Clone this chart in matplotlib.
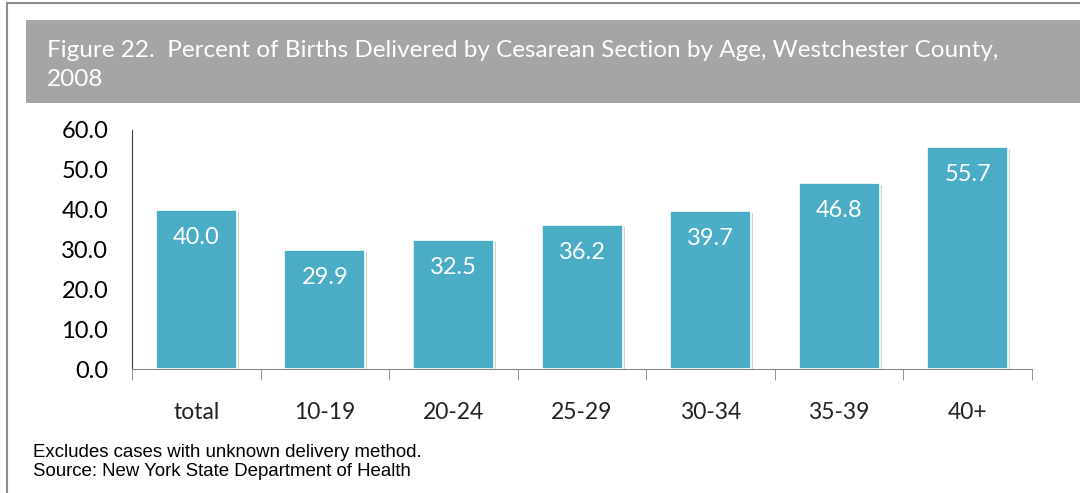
import matplotlib.pyplot as plt
import matplotlib.patheffects as pe
from matplotlib.patches import Rectangle
from matplotlib.lines import Line2D

categories = ['total', '10-19', '20-24', '25-29', '30-34', '35-39', '40+']
values = [40.0, 29.9, 32.5, 36.2, 39.7, 46.8, 55.7]
yticks = [0, 10, 20, 30, 40, 50, 60]

title = 'Figure 22.  Percent of Births Delivered by Cesarean Section by Age, Westchester County,\n2008'
notes = 'Excludes cases with unknown delivery method.\nSource: New York State Department of Health'

W, H = 1080, 493
fig = plt.figure(figsize=(W / 100, H / 100), dpi=100)

# outer frame (top and left edges visible)
fig.add_artist(Line2D([7 / W, 1], [1 - 3 / H, 1 - 3 / H], color='#8c8c8c', lw=1.5))
fig.add_artist(Line2D([7 / W, 7 / W], [0, 1 - 3 / H], color='#8c8c8c', lw=1.5))

# grey title band
fig.add_artist(Rectangle((26 / W, 1 - 103 / H), 1 - 26 / W, 83 / H,
                         transform=fig.transFigure, color='#a5a5a5', lw=0))
fig.text(47 / W, 1 - 65 / H, title, color='white', fontsize=17.5, family='Lato',
         va='center', linespacing=1.5)

ax = fig.add_axes([132 / W, 1 - 369 / H, 900 / W, 239 / H])
x = range(len(categories))
bars = ax.bar(x, values, width=0.63, color='#4bacc6', edgecolor='white', lw=1.2, zorder=3)
for b in bars:
    b.set_path_effects([pe.SimplePatchShadow(offset=(1.5, -1.5), shadow_rgbFace='#bdbdbd', alpha=0.7),
                        pe.Normal()])
for xi, v in zip(x, values):
    ax.text(xi, v - 6.9, f'{v:.1f}', ha='center', va='center', color='white',
            fontsize=17, family='Lato', zorder=4)

ax.set_xlim(-0.5, len(categories) - 0.5)
ax.set_ylim(0, 60)
ax.set_yticks(yticks)
ax.set_yticklabels([f'{t:.1f}' for t in yticks], fontsize=17, family='Lato')
ax.set_xticks(list(x))
ax.set_xticklabels(categories, fontsize=16.5, family='Lato', color='#222222')
ax.set_xticks([i - 0.5 for i in range(len(categories) + 1)], minor=True)
ax.tick_params(axis='x', which='major', length=0, pad=24)
ax.tick_params(axis='x', which='minor', length=8, color='#868686', direction='out')
ax.tick_params(axis='y', length=0, pad=17)
for s in ['top', 'right']:
    ax.spines[s].set_visible(False)
ax.spines['bottom'].set_color('#868686')
ax.spines['left'].set_color('#404040')
ax.spines['left'].set_linewidth(0.8)

fig.text(33 / W, 1 - 462 / H, notes, fontsize=13.4, family='Liberation Sans',
         va='center', linespacing=1.15)

fig.savefig('out.png', dpi=100)
